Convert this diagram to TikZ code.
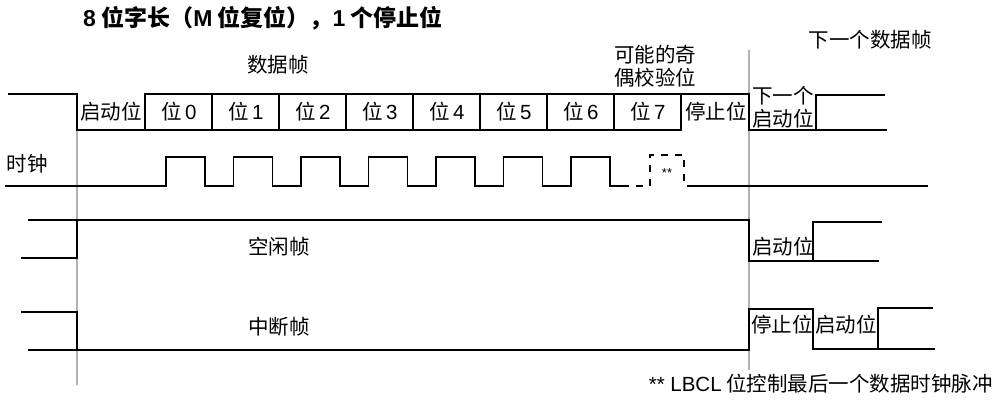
\documentclass[tikz,border=0pt]{standalone}
\usepackage{fontspec}
\setmainfont{Noto Sans CJK SC}
\newfontfamily\lat{Liberation Sans}

\tikzset{
    sig/.style={line width=1.8pt, line join=miter},
    guide/.style={line width=1.3pt, black!30},
    lbl/.style={font=\fontsize{20.5}{23}\selectfont, inner sep=0pt, align=center},
}

\begin{document}
\begin{tikzpicture}[x=1pt,y=-1pt]
        \useasboundingbox (0,0) rectangle (1003,400);

        \draw[guide] (77,130) -- (77,385);
        \draw[guide] (749,50) -- (749,370);

        \node[lbl, font=\fontsize{23}{25}\selectfont\bfseries] (title) at (263,18) {{\lat 8} 位字长（{\lat M} 位复位），{\lat 1} 个停止位};
        \node[lbl] (frame) at (278,65) {数据帧};
        \node[lbl] (parity) at (655,66) {可能的奇\\偶校验位};
        \node[lbl] (nextframe) at (870,40) {下一个数据帧};

        % data frame
        \draw[sig] (8,94) -- (77,94) -- (77,130) -- (682,130);
        \draw[sig] (145,130) -- (145,94) -- (749,94) -- (749,130) -- (887,130);
        \draw[sig] (816,130) -- (816,95) -- (885,95);
        \foreach \i in {1,...,8}
            \draw[sig] (145+67*\i,94) -- (145+67*\i,130);

        \node[lbl] (start) at (111,112) {启动位};
        \foreach \i in {0,...,7}
            \node[lbl] (b\i) at (179+67*\i,112) {位\hspace{3pt}{\lat\i}};
        \node[lbl] (stop) at (716,112) {停止位};
        \node[lbl] (nextstart) at (783,107) {下一个\\启动位};

        % clock
        \node[lbl] (clk) at (27,164) {时钟};
        \draw[sig] (5,186) foreach \k in {0,...,6} { -| (166+67.5*\k,157) -| (205+67.5*\k,186) } -- (622,186);
        \draw[sig, dash pattern=on 7pt off 7pt] (622,186) -- (650,186) -- (650,155) -- (684,155) -- (684,186);
        \draw[sig] (687,186) -- (928,186);
        \node[font=\lat\fontsize{13}{13}\selectfont, inner sep=0pt] (stars) at (667,173) {**};

        % idle frame
        \draw[sig] (21,258) -- (77,258) -- (77,220);
        \draw[sig] (28,220) -- (749,220) -- (749,261) -- (879,261);
        \draw[sig] (813,261) -- (813,222) -- (882,222);
        \node[lbl] (idle) at (279,247) {空闲帧};
        \node[lbl] (idlestart) at (783,247) {启动位};

        % break frame
        \draw[sig] (21,312) -- (77,312) -- (77,350);
        \draw[sig] (28,350) -- (749,350) -- (749,309) -- (813,309) -- (813,349) -- (935,349);
        \draw[sig] (878,349) -- (878,308) -- (933,308);
        \node[lbl] (brk) at (279,327) {中断帧};
        \node[lbl] (brkstop) at (782,325) {停止位};
        \node[lbl] (brkstart) at (846,325) {启动位};

        \node[lbl, anchor=east] (note) at (993,384) {{\lat ** LBCL} 位控制最后一个数据时钟脉冲};

    \end{tikzpicture}
\end{document}
